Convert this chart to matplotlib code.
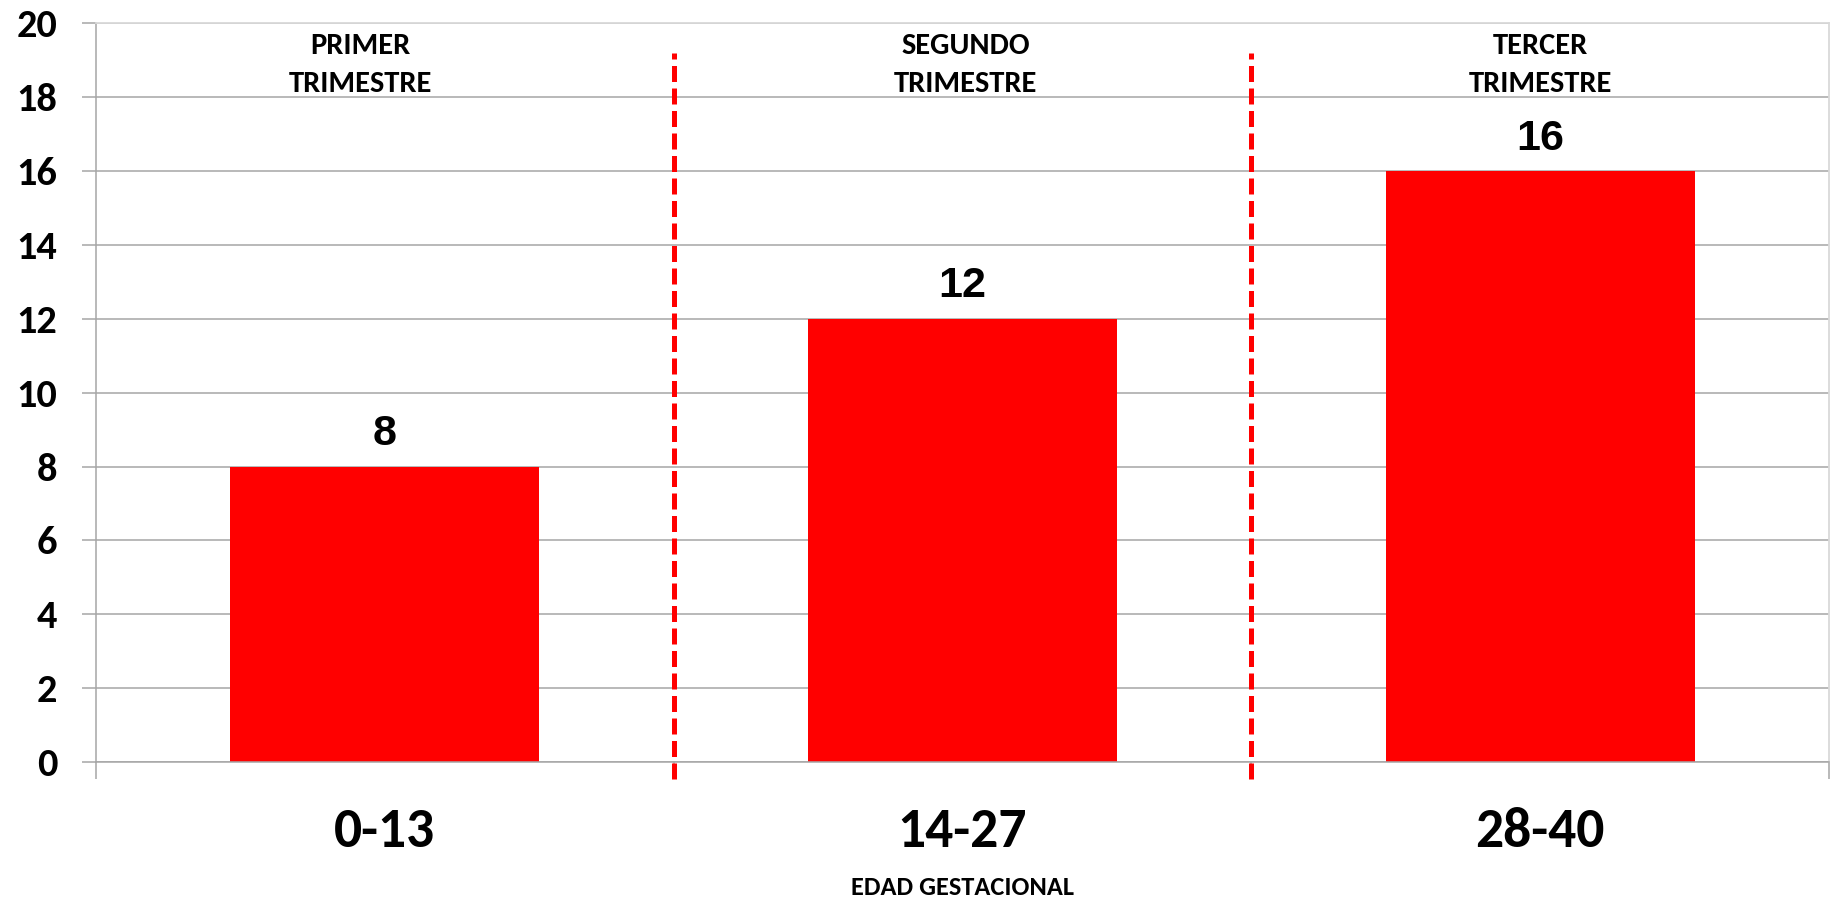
#bar chart of cases by gestational age (trimesters)

import matplotlib
matplotlib.use('Agg')
import matplotlib.pyplot as plt
import numpy as np

categories=['0-13','14-27','28-40']
values=[8,12,16]
trimestres=['PRIMER\nTRIMESTRE','SEGUNDO\nTRIMESTRE','TERCER\nTRIMESTRE']
y_ticks=np.arange(0,21,2)
x_label='EDAD GESTACIONAL'

calibri=['Carlito','Lato','DejaVu Sans']
arial=['Liberation Sans','DejaVu Sans']
heavy='heavy'
red='#ff0000'
grid_grey='#a6a6a6'
light_grey='#d9d9d9'

fig=plt.figure(figsize=(18.36,8.97),dpi=100)
ax=fig.add_axes([0.0523,0.1505,0.9962-0.0523,0.9739-0.1505])

xpos=np.arange(len(categories))
ax.bar(xpos,values,width=0.535,color=red,zorder=2)

ax.set_xlim(-0.5,len(categories)-0.5)
ax.set_ylim(0,20)
ax.set_yticks(y_ticks)
ax.set_yticklabels([str(v) for v in y_ticks],fontfamily=calibri,fontweight=heavy,fontsize=29)
ax.set_xticks(xpos)
ax.set_xticklabels(categories,fontfamily=calibri,fontweight=heavy,fontsize=40)
ax.set_xticks(np.arange(len(categories)+1)-0.5,minor=True)

ax.tick_params(axis='y',direction='out',length=10,width=1.1,color=grid_grey,pad=18)
ax.tick_params(axis='x',which='major',length=0,pad=32.5)
ax.tick_params(axis='x',which='minor',direction='out',length=12.5,width=1.1,color=grid_grey)

ax.set_axisbelow(True)
ax.yaxis.grid(True,color=grid_grey,linewidth=1.1)
for side in ['left','bottom']:
    ax.spines[side].set_color(grid_grey)
    ax.spines[side].set_linewidth(1.1)
for side in ['top','right']:
    ax.spines[side].set_color(light_grey)
    ax.spines[side].set_linewidth(1.3)

#value labels over the bars
for x,v in zip(xpos,values):
    ax.annotate(str(v),(x,v),xytext=(0,9),textcoords='offset points',ha='center',va='bottom',
                fontfamily=arial,fontweight='bold',fontsize=31)

#trimester names at the top
tri_offsets=[-0.042,0.005,0.0]
for x,t,off in zip(xpos,trimestres,tri_offsets):
    ax.text(x+off,18.87,t,ha='center',va='center',fontfamily=calibri,fontweight=heavy,
            fontsize=22,linespacing=1.55)

#dashed separators between trimesters
ax.vlines(xpos[:-1]+0.5,-0.47,19.2,colors=red,linewidth=3.6,linestyles=(0,(3.2,1.3)),
          clip_on=False,zorder=3)

ax.set_xlabel(x_label,fontfamily=calibri,fontweight=heavy,fontsize=19,labelpad=14.5)

fig.savefig('out.png',dpi=100,facecolor='white')
